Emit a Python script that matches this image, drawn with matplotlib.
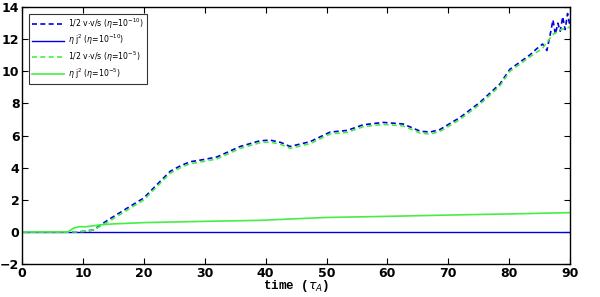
import matplotlib.pyplot as plt
import numpy as np

# kinetic energy, eta = 1e-5 (green dashed)
t_k = [0, 5, 9, 10, 11.7, 14, 17.2, 20, 22.2, 24.3, 26, 27.6, 30, 32, 35.8, 39, 40.7,
       42.5, 44, 47.3, 50.6, 53.4, 56, 59.3, 62.6, 65.4, 67, 68.6, 71.9, 75.2, 78.5,
       80.1, 83.4, 85.5, 87.2, 88.5, 90]
ke_5 = [0, 0, 0, 0.03, 0.12, 0.6, 1.35, 2.0, 2.85, 3.65, 4.0, 4.25, 4.4, 4.55, 5.2, 5.55, 5.6,
        5.45, 5.2, 5.5, 6.1, 6.2, 6.55, 6.7, 6.6, 6.15, 6.1, 6.25, 7.0, 7.95, 9.1,
        10.0, 10.9, 11.45, 12.3, 12.6, 12.75]

# kinetic energy, eta = 1e-10 (blue dashed), noisy at the end
t_k2 = t_k[:-4] + [84.5, 85.5, 86.2, 86.8, 87.2, 87.6, 88.0, 88.4, 88.8, 89.2, 89.6, 90]
ke_10 = [v + 0.12 if v > 0.5 else v for v in ke_5[:-4]] + \
        [11.4, 11.7, 11.3, 12.4, 13.2, 12.3, 13.0, 12.5, 13.4, 12.6, 13.6, 12.8]

# ohmic dissipation
t_j = [0, 5, 7.5, 8.5, 9.5, 10.5, 12.8, 15, 20, 25, 30, 39, 45, 50, 60, 70, 80, 90]
ej_5 = [0, 0, 0, 0.25, 0.33, 0.32, 0.44, 0.5, 0.58, 0.62, 0.66, 0.72, 0.82, 0.9,
        0.97, 1.05, 1.12, 1.2]
ej_10 = [0] * len(t_j)

blue = '#0000dd'
green = '#44ee44'

fig, ax = plt.subplots(figsize=(6, 2.97), dpi=100)
fig.subplots_adjust(left=0.037, right=0.95, top=0.976, bottom=0.111)

ax.plot(t_k2, ke_10, color=blue, linestyle=(0, (3, 2)), lw=1.2,
        label=r'1/2 v$\cdot$v/s ($\eta$=10$^{-10}$)')
ax.plot(t_j, ej_10, color=blue, lw=1.0, label=r'$\eta$ j$^2$ ($\eta$=10$^{-10}$)')
ax.plot(t_k, ke_5, color=green, linestyle=(0, (3, 2)), lw=1.2,
        label=r'1/2 v$\cdot$v/s ($\eta$=10$^{-5}$)')
ax.plot(t_j, ej_5, color=green, lw=1.2, label=r'$\eta$ j$^2$ ($\eta$=10$^{-5}$)')

ax.set_xlim(0, 90)
ax.set_ylim(-2, 14)
ax.set_xticks(np.arange(0, 91, 10))
ax.set_yticks(np.arange(-2, 15, 2))
ax.tick_params(direction='in', top=True, right=True, length=4, width=0.8,
               labelsize=9, pad=2)
for lab in ax.get_xticklabels() + ax.get_yticklabels():
    lab.set_fontweight('bold')
for s in ax.spines.values():
    s.set_linewidth(1.0)

ax.set_xlabel(r'time ($\tau_A$)', family='Liberation Mono', fontweight='bold',
              fontsize=9, labelpad=-1)

leg = ax.legend(loc='upper left', fontsize=5.6, frameon=True, fancybox=False,
                edgecolor='black', borderpad=0.35, handlelength=4.2,
                labelspacing=0.3, handletextpad=0.5, bbox_to_anchor=(0.005, 0.99))
leg.get_frame().set_linewidth(0.8)

fig.savefig('out.png')
